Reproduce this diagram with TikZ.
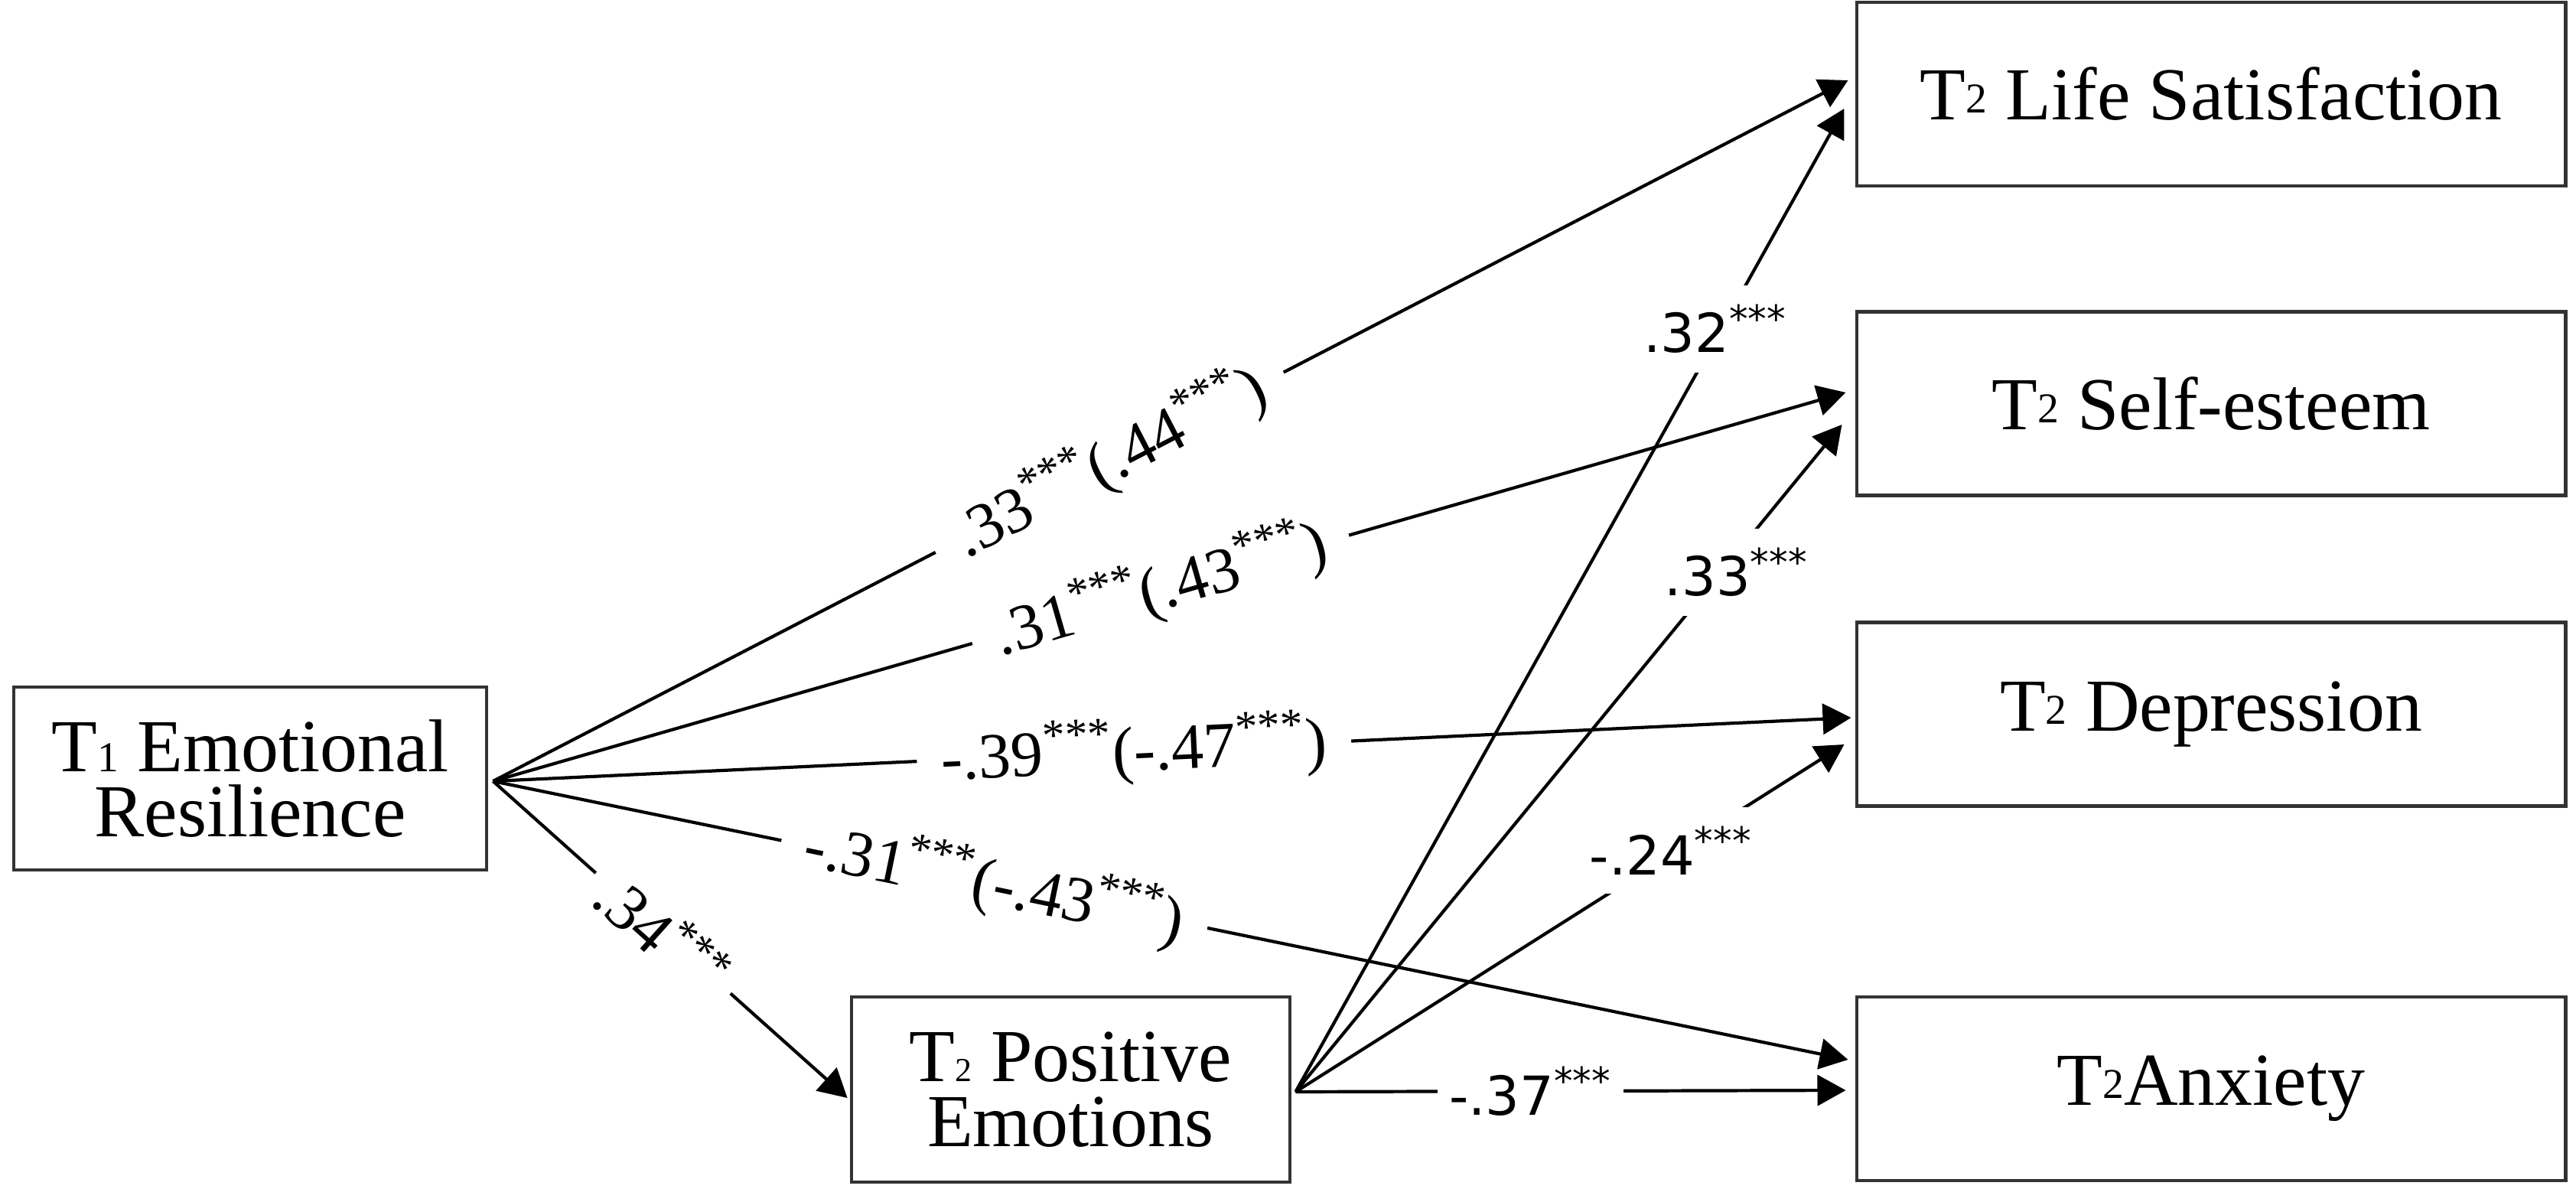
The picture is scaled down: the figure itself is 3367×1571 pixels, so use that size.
\documentclass[tikz,border=0pt]{standalone}
\usepackage{fontspec}
\setmainfont{Liberation Serif}
\newfontfamily\lblsans{DejaVu Sans}
\usetikzlibrary{arrows.meta,calc}
\newcommand\digup[1]{\raisebox{0.09cm}{\fontsize{15.8}{15.8}\selectfont #1}}
\newcommand\digdn[1]{{\fontsize{15.8}{15.8}\selectfont #1}}
\newcommand\digsm[1]{{\fontsize{12.5}{12.5}\selectfont #1}}
\begin{document}
\begin{tikzpicture}[x=0.01cm,y=-0.01cm,
  box/.style={draw=black!80, line width=0.045cm, fill=white, inner sep=0pt, align=center,
              font=\fontsize{27.8}{24.2}\selectfont},
  outbox/.style={box, minimum width=9.26cm, minimum height=2.40cm},
  conn/.style={line width=0.042cm, -{Triangle[length=0.37cm,width=0.40cm]}},
  erlab/.style={sloped, fill=white, inner xsep=0.32cm, inner ysep=0.06cm,
                font=\fontsize{24}{24}\selectfont},
  pelab/.style={fill=white, inner xsep=0.15cm, inner ysep=0.25cm,
                font=\lblsans\fontsize{20}{20}\selectfont}]
\useasboundingbox (0,0) rectangle (3367,1571);

% boxes
\node[box, minimum width=6.18cm, minimum height=2.39cm] (ER) at (327,1017.5)
  {T\digdn{1} Emotional\\Resilience};
\node[box, minimum width=5.73cm, minimum height=2.42cm] (PE) at (1399.5,1424)
  {T\digsm{2} Positive\\Emotions};
\node[outbox] (LS)  at (2890,123)    {T\digup{2} Life Satisfaction};
\node[outbox] (SE)  at (2890,527.5)  {T\digup{2} Self-esteem};
\node[outbox] (DEP) at (2890,933.5)  {T\digup{2} Depression};
\node[outbox] (ANX) at (2890,1423)   {T\digup{2}Anxiety};

% start and end points
\coordinate (ERo) at ($(ER.east)+(6,3.5)$);
\coordinate (PEo) at ($(PE.east)+(5,3)$);
\coordinate (LSa) at ($(LS.west)+(-9,-18)$);
\coordinate (LSb) at ($(LS.west)+(-14,19)$);
\coordinate (SEa) at ($(SE.west)+(-12,-14.5)$);
\coordinate (SEb) at ($(SE.west)+(-17,27.5)$);
\coordinate (DEPa) at ($(DEP.west)+(-5,4.5)$);
\coordinate (DEPb) at ($(DEP.west)+(-14,39.5)$);
\coordinate (ANXa) at ($(ANX.west)+(-9,-38)$);
\coordinate (ANXb) at ($(ANX.west)+(-12,2)$);
\coordinate (PEa) at ($(PE.west)+(-3,11)$);

% paths from T1 Emotional Resilience
\draw[conn] (ERo) -- (LSa)
  node[erlab, pos=0.455] {.33\textsuperscript{***}(.44\textsuperscript{***})};
\draw[conn] (ERo) -- (SEa)
  node[erlab, pos=0.4935] {.31\textsuperscript{***}(.43\textsuperscript{***})};
\draw[conn] (ERo) -- (DEPa)
  node[erlab, pos=0.472] {-.39\textsuperscript{***}(-.47\textsuperscript{***})};
\draw[conn] (ERo) -- (ANXa)
  node[erlab, pos=0.37] {-.31\textsuperscript{***}(-.43\textsuperscript{***})};
\draw[conn] (ERo) -- (PEa)
  node[erlab, pos=0.48, inner xsep=0.2cm] {.34\textsuperscript{***}};

% paths from T2 Positive Emotions
\draw[conn] (PEo) -- (LSb)
  node[pelab, pos=0.776, xshift=-0.08cm] {.32\textsuperscript{***}};
\draw[conn] (PEo) -- (SEb)
  node[pelab, pos=0.779, xshift=0.2cm] {.33\textsuperscript{***}};
\draw[conn] (PEo) -- (DEPb)
  node[pelab, pos=0.694, xshift=-0.07cm] {-.24\textsuperscript{***}};
\draw[conn] (PEo) -- (ANXb)
  node[pelab, pos=0.427, inner ysep=0.05cm] {-.37\textsuperscript{***}};
\end{tikzpicture}
\end{document}
